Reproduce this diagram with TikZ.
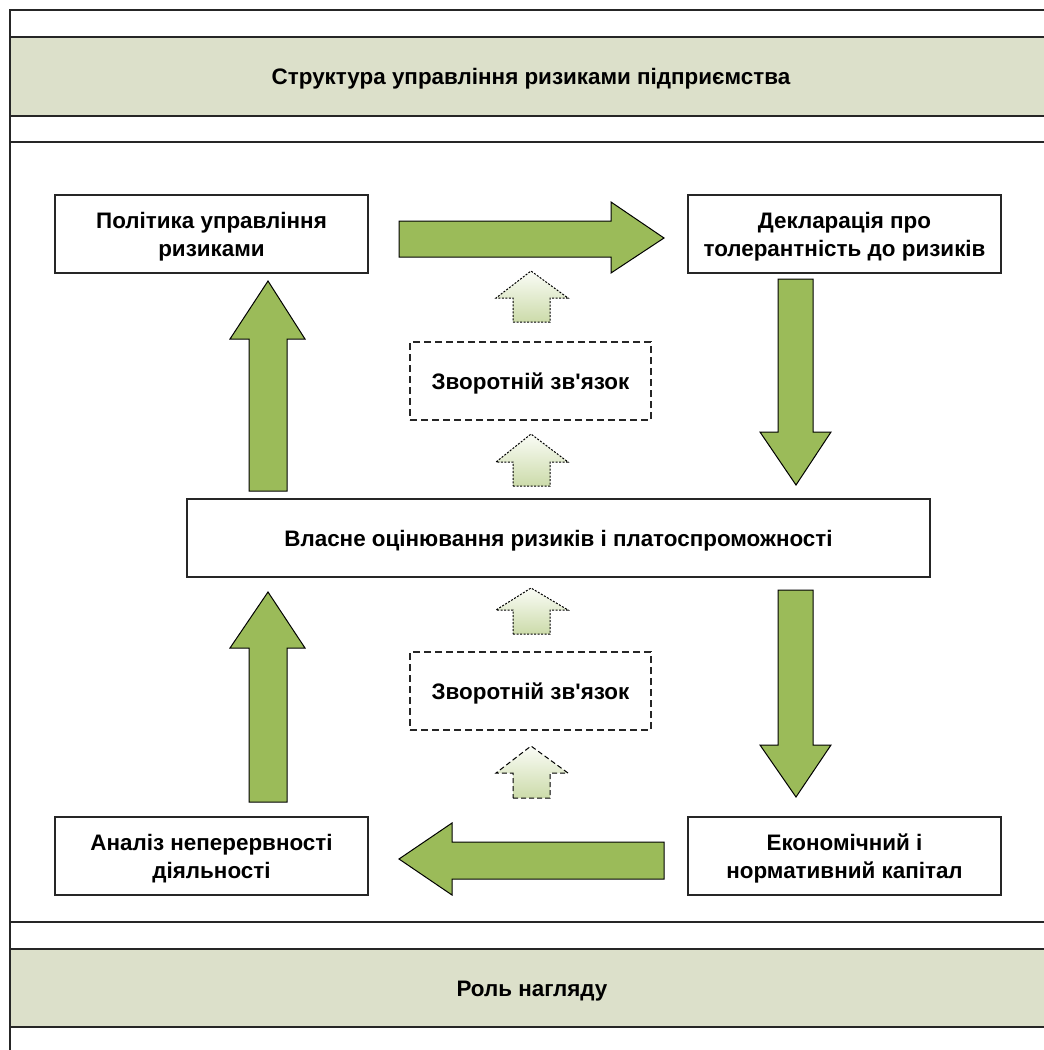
\documentclass[tikz,border=0pt]{standalone}
\usepackage{fontspec}
\setmainfont{Liberation Sans}
\begin{document}
\begin{tikzpicture}[x=1bp,y=-1bp,
  frameline/.style={line width=1.3bp,draw=black!85},
  band/.style={fill=bandfill},
  box/.style={draw=black!85,line width=1.2bp,fill=white,align=center,
    inner sep=0pt,text depth=-2.3bp,font=\fontsize{22.5}{28}\selectfont\bfseries},
  dashbox/.style={box,dash pattern=on 7bp off 4bp},
  bigarrow/.style={fill=arrowgreen,draw=black,line width=1bp,line join=miter},
  fbarrow/.style={top color=fbtop,bottom color=fbbottom,draw=black,line width=1bp},
  label/.style={font=\fontsize{22.5}{27}\selectfont\bfseries}]
\definecolor{bandfill}{HTML}{DCE0CA}
\definecolor{arrowgreen}{HTML}{9BBB59}
\definecolor{fbtop}{HTML}{FAFCF6}
\definecolor{fbbottom}{HTML}{CCDBAA}
\useasboundingbox (0,0) rectangle (1044,1050);

% header and footer bands
\fill[band] (10,37) rectangle (1044,116);
\fill[band] (10,949) rectangle (1044,1027);
\draw[frameline] (1044,10) -- (10,10) -- (10,1050);
\foreach \y in {37,116,142,922,949,1027}
  \draw[frameline] (10,\y) -- (1044,\y);
\node[label] (title) at (531,79) {Структура управління ризиками підприємства};
\node[label] (role) at (532,991) {Роль нагляду};

% process boxes
\node[box,minimum width=313bp,minimum height=78bp] (policy) at (211.5,234)
  {Політика управління\\ризиками};
\node[box,minimum width=313bp,minimum height=78bp] (declar) at (844.5,234)
  {Декларація про\\толерантність до ризиків};
\node[box,minimum width=743bp,minimum height=78bp] (orsa) at (558.5,538)
  {Власне оцінювання ризиків і платоспроможності};
\node[box,minimum width=313bp,minimum height=78bp] (contin) at (211.5,856)
  {Аналіз неперервності\\діяльності};
\node[box,minimum width=313bp,minimum height=78bp] (capital) at (844.5,856)
  {Економічний і\\нормативний капітал};
\node[dashbox,minimum width=241bp,minimum height=78bp] (fbtop) at (530.5,381)
  {Зворотній зв\textquotesingle язок};
\node[dashbox,minimum width=241bp,minimum height=78bp] (fbbot) at (530.5,691)
  {Зворотній зв\textquotesingle язок};

% main cycle block arrows
\draw[bigarrow] (399,221) -- (611,221) -- (611,202) -- (664,238)
  -- (611,273) -- (611,257) -- (399,257) -- cycle;
\draw[bigarrow] (778,279) -- (813,279) -- (813,432) -- (831,432)
  -- (796,485) -- (760,432) -- (778,432) -- cycle;
\draw[bigarrow] (778,590) -- (813,590) -- (813,745) -- (831,745)
  -- (796,797) -- (760,745) -- (778,745) -- cycle;
\draw[bigarrow] (664,842) -- (452,842) -- (452,823) -- (399,859)
  -- (452,895) -- (452,879) -- (664,879) -- cycle;
\draw[bigarrow] (249,802) -- (287,802) -- (287,648) -- (305,648)
  -- (268,592) -- (230,648) -- (249,648) -- cycle;
\draw[bigarrow] (249,491) -- (287,491) -- (287,339) -- (305,339)
  -- (268,281) -- (230,339) -- (249,339) -- cycle;

% feedback arrows
\draw[fbarrow,dash pattern=on 2bp off 1.5bp] (513,322) -- (550,322) -- (550,298)
  -- (568,298) -- (531,271) -- (496,298) -- (513,298) -- cycle;
\draw[fbarrow,dash pattern=on 2bp off 1.5bp] (513,486) -- (550,486) -- (550,462)
  -- (568,462) -- (531,434) -- (496,462) -- (513,462) -- cycle;
\draw[fbarrow,dash pattern=on 2bp off 1.5bp] (513,634) -- (550,634) -- (550,610)
  -- (568,610) -- (531,588) -- (496,610) -- (513,610) -- cycle;
\draw[fbarrow,dash pattern=on 5bp off 3bp] (513,798) -- (550,798) -- (550,773)
  -- (568,773) -- (531,746) -- (496,773) -- (513,773) -- cycle;
\end{tikzpicture}
\end{document}
